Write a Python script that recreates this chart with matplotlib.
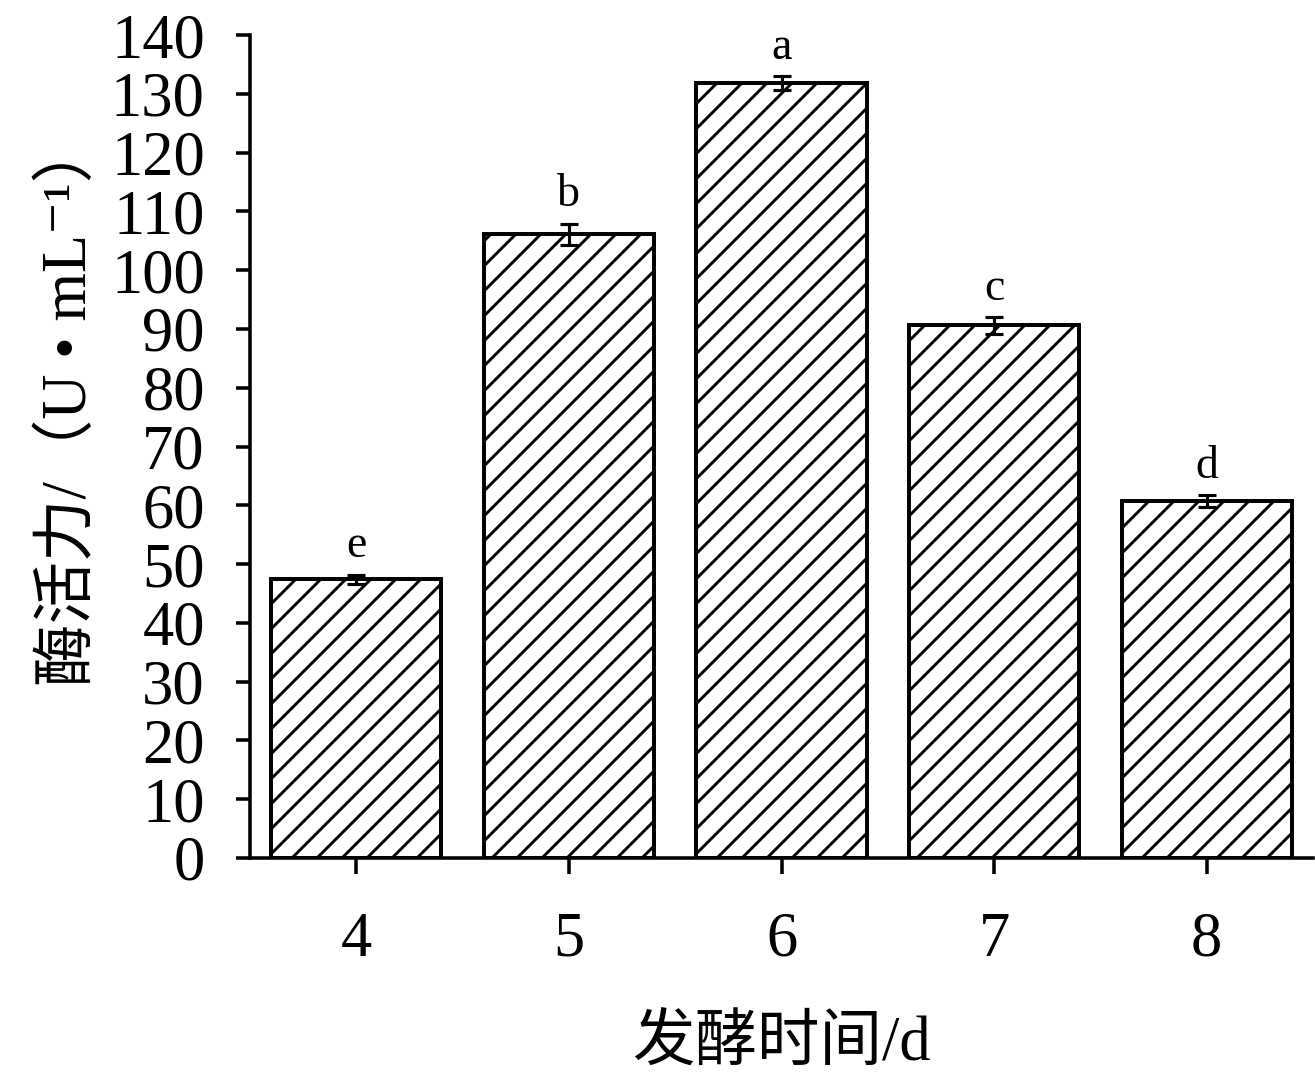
import matplotlib.pyplot as plt
import numpy as np

plt.rcParams['font.family'] = ['Liberation Serif', 'Noto Sans CJK SC', 'DejaVu Serif']
plt.rcParams['hatch.linewidth'] = 1.4

days = [4, 5, 6, 7, 8]
activity = [47.4, 106.1, 131.8, 90.6, 60.7]
errors = [0.8, 1.8, 1.2, 1.4, 1.0]
letters = ['e', 'b', 'a', 'c', 'd']

fig = plt.figure(figsize=(1315 / 150, 1086 / 150), dpi=150)
ax = fig.add_axes([250 / 1315, 1 - 858 / 1086, (1313 - 250) / 1315, (858 - 35) / 1086])

x = np.arange(len(days))
ax.bar(x, activity, width=0.8, color='white', edgecolor='black',
       linewidth=1.9, hatch='//', zorder=2)
ax.errorbar(x, activity, yerr=errors, fmt='none', ecolor='black',
            elinewidth=1.5, capsize=4.3, capthick=1.5, zorder=3)
for xi, v, e, lab in zip(x, activity, errors, letters):
    ax.text(xi, v + e + 1.3, lab, ha='center', va='bottom', fontsize=22)

ax.set_xlim(-0.5, 4.5)
ax.set_ylim(0, 140)
ax.set_yticks(np.arange(0, 141, 10))
ax.set_xticks(x)
ax.set_xticklabels([str(d) for d in days])

for side in ['top', 'right']:
    ax.spines[side].set_visible(False)
for side in ['left', 'bottom']:
    ax.spines[side].set_linewidth(1.7)

ax.tick_params(axis='y', direction='out', length=6.7, width=1.7, labelsize=30, pad=15)
ax.tick_params(axis='x', direction='out', length=7.7, width=1.7, labelsize=30, pad=18)

ax.set_xlabel('发酵时间/d', fontsize=30, labelpad=22)
ax.set_ylabel('酶活力/（U • mL⁻¹）', fontsize=30)
ax.yaxis.set_label_coords(-0.141, 0.553)

fig.savefig('out.png', dpi=150)
